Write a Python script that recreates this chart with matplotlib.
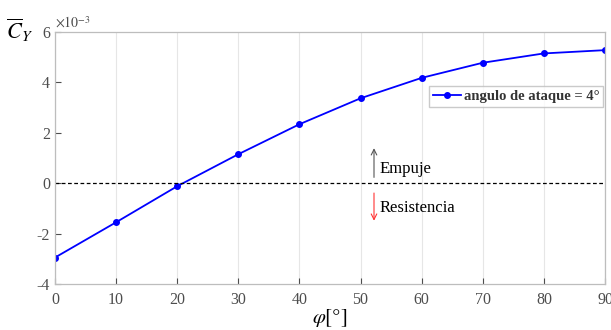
import matplotlib
matplotlib.use("Agg")
import matplotlib.pyplot as plt

phi = [0, 10, 20, 30, 40, 50, 60, 70, 80, 90]
cy = [-2.95, -1.55, -0.12, 1.15, 2.34, 3.37, 4.18, 4.78, 5.15, 5.28]
xticks = [0, 10, 20, 30, 40, 50, 60, 70, 80, 90]
yticks = [-4, -2, 0, 2, 4, 6]

plt.rcParams['font.family'] = ['Liberation Serif', 'DejaVu Serif']
plt.rcParams['mathtext.fontset'] = 'stix'
plt.rcParams['axes.unicode_minus'] = False

fig = plt.figure(figsize=(6.11, 3.3), dpi=100)
ax = fig.add_axes([55/611, 1-284/330, 550/611, 252/330])

ax.plot(phi, cy, color='#0000ff', marker='o', markersize=4, lw=1.3,
        label='angulo de ataque = 4°')
ax.axhline(0, color='black', ls='--', lw=0.9, dashes=(3, 2))

ax.set_xlim(0, 90)
ax.set_ylim(-4, 6)
ax.set_xticks(xticks)
ax.set_yticks(yticks)
ax.xaxis.grid(True, color='#e6e6e6', lw=0.8)
ax.set_axisbelow(True)
for s in ax.spines.values():
    s.set_color('#bdbdbd')
    s.set_linewidth(0.9)
ax.tick_params(direction='in', colors='#4d4d4d', labelsize=11.5, length=4, top=False, right=False)
ax.tick_params(axis='x', pad=6)

ax.text(0.0, 1.005, r'$\times10^{-3}$', transform=ax.transAxes, fontsize=10,
        color='#4d4d4d', va='bottom', ha='left')

fig.text(20/611, 1-30/330, r'$\overline{C}_Y$', fontsize=16, ha='center', va='center')
fig.text(330/611, 1-318/330, r'$\varphi[°]$', fontsize=15, ha='center', va='center')

ax.annotate('', xy=(52.2, 1.5), xytext=(52.2, 0.12),
            arrowprops=dict(arrowstyle='->', color='#555555', lw=0.8))
ax.annotate('', xy=(52.2, -1.6), xytext=(52.2, -0.28),
            arrowprops=dict(arrowstyle='->', color='#ff3333', lw=0.8))
ax.text(53.1, 0.58, 'Empuje', fontsize=12, va='center', ha='left')
ax.text(53.1, -1.0, 'Resistencia', fontsize=12, va='center', ha='left')

leg = ax.legend(loc='upper right', bbox_to_anchor=(0.996, 0.785), fontsize=10.5,
                frameon=True, fancybox=False, edgecolor='#bdbdbd', borderaxespad=0,
                handlelength=1.9, borderpad=0.25, handletextpad=0.2)
for t in leg.get_texts():
    t.set_fontweight('bold')
    t.set_color('#333333')

fig.savefig('out.png', dpi=100)
